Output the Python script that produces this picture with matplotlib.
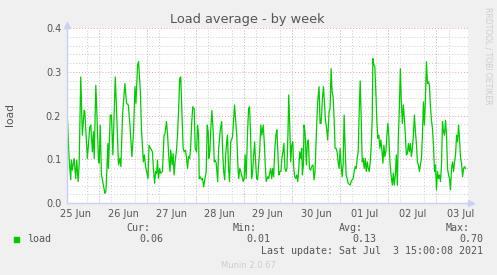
import numpy as np
import matplotlib
matplotlib.use("Agg")
import matplotlib.pyplot as plt
from matplotlib.ticker import MultipleLocator, FixedLocator

# Munin "load" week graph, hours counted from 25 Jun 00:00
hours = [
    8.1, 9.0, 9.8, 10.1, 10.6, 11.5, 12.3, 12.8, 13.5, 14.0, 14.8, 15.6, 16.5, 16.8,
    18.1, 19.3, 19.8, 20.6, 21.1, 21.5, 22.3, 22.8, 23.6, 24.0, 24.5, 25.1, 25.6,
    26.8, 27.3, 27.8, 28.3, 28.6, 29.5, 30.1, 30.8, 31.1, 32.0, 32.6, 33.6, 34.3,
    34.8, 35.6, 36.8, 37.6, 38.5, 39.3, 40.3, 41.1, 41.8, 42.3, 43.1, 43.6, 44.5,
    45.1, 46.0, 46.5,
    47.1, 48.3, 48.8, 49.6, 50.5, 51.0, 51.6, 52.1, 52.6, 53.0, 53.5, 54.1, 54.6,
    55.5, 56.3, 56.8, 57.5, 58.0, 58.8, 59.3, 59.6, 60.3, 60.8, 61.3, 61.8, 62.5,
    63.0, 63.6, 64.1, 64.6, 65.3, 65.8, 66.3, 67.0, 67.5, 68.0, 68.5, 69.1, 69.6,
    70.1, 70.6, 71.3, 71.8, 72.5, 73.0, 73.5, 73.8, 74.3, 75.0, 75.5, 76.0, 76.6,
    77.3, 77.8, 78.3, 78.6, 79.1, 79.6, 80.1, 80.8, 81.3, 81.8, 82.3, 83.0, 83.5,
    84.3, 85.0, 85.5, 86.0,
    86.5, 87.0, 87.5, 87.9, 88.4, 88.9, 89.5, 90.4, 90.9, 91.4, 91.9, 92.5, 93.2,
    93.5, 94.0, 94.5, 95.4, 95.7, 96.2, 96.7, 97.2, 97.9, 98.4, 98.9, 99.4, 99.9,
    100.4, 100.9, 101.4, 101.9, 102.4, 102.9, 103.4, 103.9, 104.5, 105.0, 105.7,
    106.2, 106.7, 107.2, 107.9, 108.4, 108.9, 109.4, 109.9, 110.4, 110.9, 111.4,
    112.0, 112.5, 113.0, 113.5, 114.0, 114.5, 115.0, 115.5, 116.0, 116.5, 117.0,
    117.5, 118.0, 118.4, 118.9, 119.4, 119.9, 120.4, 120.9, 121.4, 121.9, 122.4,
    122.9, 123.4, 123.9, 124.4, 124.9, 125.2, 125.7,
    126.0, 126.5, 127.2, 127.7, 128.2, 128.7, 129.3, 129.8, 130.5, 131.0, 131.5,
    132.2, 132.8, 133.5, 134.0, 134.5, 135.2, 135.7, 136.2, 136.7, 137.3, 137.8,
    138.5, 139.0, 139.5, 140.0, 140.5, 141.0, 141.5, 142.0, 142.5, 143.0, 143.5,
    144.0, 144.5, 145.0, 145.5, 146.0, 146.5, 147.0, 147.5, 148.0, 148.5, 149.0,
    149.5, 150.0, 150.5, 151.0, 151.5, 152.0, 152.5, 153.0, 153.5, 154.0, 154.5,
    155.0, 155.5, 156.0, 156.5, 157.0, 157.5, 158.0, 158.5, 159.0, 159.5, 160.0,
    160.3, 160.8, 161.3, 161.8, 162.3, 162.8, 163.3, 163.8, 164.3, 164.8, 165.3,
    165.8,
    166.3, 166.8, 167.3, 167.8, 168.3, 168.8, 169.3, 170.0, 170.5, 171.0, 171.5,
    172.0, 172.5, 173.0, 173.5, 174.0, 174.5, 175.0, 175.5, 176.0, 176.5, 177.0,
    177.5, 178.0, 178.5, 179.0, 179.5, 180.0, 180.5, 181.0, 181.5, 182.0, 182.5,
    183.0, 183.5, 184.0, 184.5, 185.0, 185.5, 186.0, 186.5, 187.0, 187.5, 188.0,
    188.5, 189.0, 189.5, 190.0, 190.5, 191.0, 191.5, 192.0, 192.5, 193.0, 193.5,
    194.0, 194.5, 195.0, 195.5, 196.0, 196.5, 197.0, 197.5, 198.0, 198.5, 199.0,
    199.5, 200.0, 200.5, 201.0, 201.5, 202.0, 202.5, 203.0, 203.5, 204.0, 204.5,
    205.0, 205.5, 206.0, 206.5,
]
load = [
    0.201, 0.102, 0.053, 0.098, 0.075, 0.102, 0.056, 0.098, 0.049, 0.087, 0.288, 0.155, 0.212, 0.209,
    0.102, 0.174, 0.178, 0.117, 0.163, 0.102, 0.269, 0.209, 0.102, 0.091, 0.178, 0.064, 0.053,
    0.022, 0.026, 0.075, 0.136, 0.079, 0.201, 0.201, 0.110, 0.155, 0.288, 0.216, 0.087, 0.102,
    0.083, 0.201, 0.273, 0.228, 0.224, 0.178, 0.106, 0.163, 0.266, 0.228, 0.315, 0.323, 0.254,
    0.163, 0.094, 0.110,
    0.083, 0.056, 0.132, 0.125, 0.117, 0.079, 0.045, 0.072, 0.068, 0.098, 0.056, 0.079, 0.068,
    0.072, 0.155, 0.159, 0.186, 0.159, 0.094, 0.072, 0.121, 0.087, 0.113, 0.064, 0.094, 0.121,
    0.155, 0.220, 0.285, 0.288, 0.193, 0.125, 0.117, 0.121, 0.102, 0.079, 0.106, 0.102, 0.132,
    0.186, 0.220, 0.216, 0.125, 0.117, 0.178, 0.155, 0.056, 0.060, 0.053, 0.056, 0.037, 0.053,
    0.072, 0.178, 0.163, 0.102, 0.117, 0.170, 0.212, 0.163, 0.094, 0.098, 0.091, 0.049, 0.125,
    0.167, 0.186, 0.117, 0.072,
    0.053, 0.110, 0.140, 0.155, 0.079, 0.049, 0.140, 0.151, 0.189, 0.224, 0.193, 0.155, 0.072,
    0.056, 0.079, 0.072, 0.056, 0.049, 0.056, 0.110, 0.056, 0.163, 0.216, 0.220, 0.155, 0.056,
    0.072, 0.106, 0.140, 0.094, 0.056, 0.053, 0.087, 0.117, 0.178, 0.155, 0.178,
    0.140, 0.087, 0.049, 0.060, 0.056, 0.068, 0.079, 0.056, 0.079, 0.060, 0.117,
    0.155, 0.167, 0.117, 0.064, 0.072, 0.072, 0.102, 0.117, 0.136, 0.079, 0.072,
    0.079, 0.155, 0.247, 0.178, 0.094, 0.132, 0.140, 0.079, 0.060, 0.056, 0.064,
    0.049, 0.079, 0.117, 0.102, 0.125, 0.064, 0.087,
    0.178, 0.163, 0.087, 0.140, 0.144, 0.079, 0.075, 0.083, 0.087, 0.053, 0.072,
    0.163, 0.231, 0.266, 0.182, 0.182, 0.239, 0.266, 0.228, 0.189, 0.170, 0.144,
    0.209, 0.216, 0.307, 0.254, 0.243, 0.193, 0.125, 0.125, 0.117, 0.094, 0.079,
    0.125, 0.087, 0.060, 0.087, 0.201, 0.125, 0.064, 0.056, 0.045, 0.043, 0.041,
    0.049, 0.053, 0.056, 0.072, 0.083, 0.079, 0.102, 0.117, 0.209, 0.279, 0.193,
    0.094, 0.102, 0.079, 0.102, 0.072, 0.094, 0.079, 0.072, 0.094, 0.132, 0.193,
    0.330, 0.315, 0.311, 0.254, 0.186, 0.148, 0.155, 0.125, 0.144, 0.121, 0.091,
    0.132,
    0.106, 0.117, 0.155, 0.182, 0.148, 0.094, 0.068, 0.041, 0.068, 0.041, 0.064,
    0.110, 0.041, 0.148, 0.216, 0.307, 0.231, 0.182, 0.224, 0.193, 0.155, 0.110,
    0.113, 0.136, 0.117, 0.136, 0.106, 0.125, 0.155, 0.201, 0.163, 0.136, 0.094,
    0.087, 0.072, 0.087, 0.102, 0.155, 0.231, 0.178, 0.239, 0.323, 0.273, 0.277,
    0.269, 0.220, 0.189, 0.170, 0.132, 0.072, 0.087, 0.030, 0.072, 0.056, 0.064,
    0.049, 0.087, 0.186, 0.163, 0.155, 0.189, 0.155, 0.079, 0.064, 0.056, 0.030,
    0.079, 0.094, 0.072, 0.094, 0.110, 0.155, 0.140, 0.178, 0.144, 0.102, 0.091,
    0.060, 0.079, 0.083, 0.079,
]
day_labels = ["25 Jun", "26 Jun", "27 Jun", "28 Jun", "29 Jun",
              "30 Jun", "01 Jul", "02 Jul", "03 Jul"]
stats = [("Cur:", "0.06"), ("Min:", "0.01"), ("Avg:", "0.13"), ("Max:", "0.70")]
last_update = "Last update: Sat Jul  3 15:00:08 2021"

bg = "#f0f0f0"
txt = "#555555"
axcol = "#c8d0f4"

fig = plt.figure(figsize=(4.97, 2.75), dpi=100, facecolor=bg)
ax = fig.add_axes([66.7 / 497, 72 / 275, (468 - 66.7) / 497, (203 - 28) / 275])
ax.set_facecolor("white")

t0, t1 = 7.8, 207.7
ax.set_xlim(t0, t1)
ax.set_ylim(0, 0.4)

# grid: grey every 6h / 0.02, red every day / 0.1
ax.xaxis.set_minor_locator(MultipleLocator(6))
ax.yaxis.set_minor_locator(MultipleLocator(0.02))
ax.grid(which="minor", color="#cccccc", ls=(0, (1, 2)), lw=0.7)
for d in range(1, 9):
    ax.axvline(24 * d, color="#e8a0a0", ls=(0, (1, 2)), lw=0.7, zorder=1)
for v in [0.1, 0.2, 0.3, 0.4]:
    ax.axhline(v, color="#e8a0a0", ls=(0, (1, 2)), lw=0.7, zorder=1)

ax.plot(hours, load, color="#00cc00", lw=0.9, zorder=3)

ax.xaxis.set_major_locator(FixedLocator([12 + 24 * i for i in range(len(day_labels))]))
ax.set_xticklabels(day_labels)
ax.set_yticks([0.0, 0.1, 0.2, 0.3, 0.4])
ax.set_yticklabels(["%.1f" % v for v in [0.0, 0.1, 0.2, 0.3, 0.4]])
ax.tick_params(which="both", length=0, labelsize=7, colors=txt, pad=4)
for s in ax.spines.values():
    s.set_visible(False)

# axes with arrow heads
ax.axhline(0, color=axcol, lw=1.0, zorder=4, clip_on=False)
ax.axvline(t0, color=axcol, lw=1.0, zorder=4, clip_on=False)
ax.plot([t1 + 1.5], [0], marker=">", ms=5, color=axcol, clip_on=False, zorder=4)
ax.plot([t0], [0.408], marker="^", ms=5, color=axcol, clip_on=False, zorder=4)

fig.text(247.5 / 497, 1 - 19 / 275, "Load average - by week", ha="center", va="center",
         fontsize=9.3, color=txt)
fig.text(10 / 497, 1 - 115 / 275, "load", rotation=90, ha="center", va="center",
         fontsize=7.7, color=txt)
fig.text(488 / 497, 1 - 56 / 275, "RRDTOOL / TOBI OETIKER", rotation=270, ha="center",
         va="center", fontsize=5.5, color="#cccccc")

# legend block
mono = "DejaVu Sans Mono"
fig.patches.append(plt.Rectangle((14 / 497, 1 - 242 / 275), 5 / 497, 5 / 275,
                                 transform=fig.transFigure, color="#00cc00"))
fig.text(27 / 497, 1 - 239.5 / 275, "load", family=mono, fontsize=7.2, color=txt,
         va="center")
head_x = [150, 257, 363, 470]
val_x = [163, 270, 376, 483]
for (h, v), hx, vx in zip(stats, head_x, val_x):
    fig.text(hx / 497, 1 - 228 / 275, h, family=mono, fontsize=7.2, color=txt,
             ha="right", va="center")
    fig.text(vx / 497, 1 - 239.5 / 275, v, family=mono, fontsize=7.2, color=txt,
             ha="right", va="center")
fig.text(483 / 497, 1 - 251 / 275, last_update, family=mono, fontsize=7.2, color=txt,
         ha="right", va="center")
fig.text(248 / 497, 1 - 265 / 275, "Munin 2.0.67", fontsize=6, color="#cccccc",
         ha="center", va="center")

fig.savefig("out.png", dpi=100, facecolor=bg)
